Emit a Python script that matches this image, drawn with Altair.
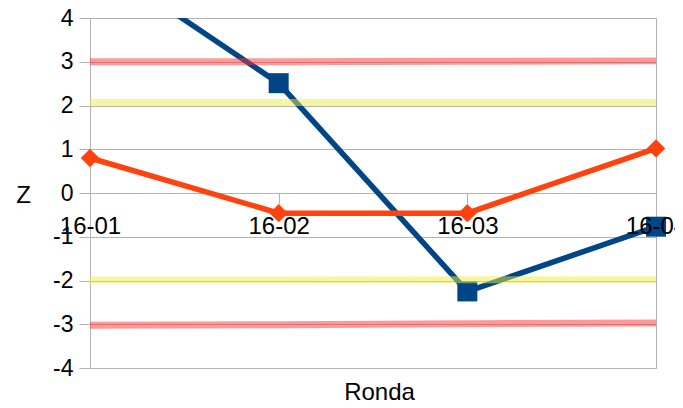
import altair as alt
import pandas as pd

rondas = ["16-01", "16-02", "16-03", "16-04"]
serie_azul = [5.41, 2.51, -2.25, -0.77]
serie_naranja = [0.80, -0.46, -0.46, 1.02]
rojo_sup = [3.00, 3.00, 3.01, 3.02]
rojo_inf = [-3.02, -3.01, -2.99, -2.97]
amarillo_sup = [2.07, 2.07, 2.07, 2.07]
amarillo_inf = [-1.99, -1.99, -1.98, -1.98]
y_ticks = [-4, -3, -2, -1, 0, 1, 2, 3, 4]

series = {
    "azul": serie_azul,
    "naranja": serie_naranja,
    "rojo_sup": rojo_sup,
    "rojo_inf": rojo_inf,
    "amarillo_sup": amarillo_sup,
    "amarillo_inf": amarillo_inf,
}
rows = []
for name, vals in series.items():
    for r, v in zip(rondas, vals):
        rows.append({"Ronda": r, "Z": v, "Serie": name})
df = pd.DataFrame(rows)

FONT = "Liberation Sans"
GREY = "#b3b3b3"

x = alt.X(
    "Ronda:N",
    sort=rondas,
    scale=alt.Scale(type="point", padding=0),
    axis=alt.Axis(
        title="Ronda", orient="bottom", offset=-175, domain=False, grid=False,
        ticks=True, tickSize=11, tickColor=GREY, labelFont=FONT, labelFontSize=24,
        labelColor="black", labelPadding=10, labelAngle=0,
        titleFont=FONT, titleFontSize=24, titleFontWeight="normal", titleColor="black",
        titleX=289, titleY=206, titleBaseline="alphabetic", titleAlign="center",
        zindex=1,
    ),
)
y = alt.Y(
    "Z:Q",
    scale=alt.Scale(domain=[-4, 4], nice=False, zero=False),
    axis=alt.Axis(
        title="Z", values=y_ticks, labelExpr="datum.value + ''", grid=True,
        gridColor=GREY, domainColor=GREY, tickColor=GREY, tickSize=11,
        labelPadding=6, labelFont=FONT, labelFontSize=23, labelColor="black",
        titleAngle=0, titleX=-67, titleY=184, titleAlign="center",
        titleBaseline="alphabetic", titleFont=FONT, titleFontSize=24,
        titleFontWeight="normal", titleColor="black",
    ),
)

base = alt.Chart(df)

azul_line = base.transform_filter("datum.Serie == 'azul'").mark_line(
    color="#004586", strokeWidth=5.5, clip=True).encode(x=x, y=y)
azul_pts = base.transform_filter("datum.Serie == 'azul' && datum.Z <= 4").mark_point(
    shape="square", filled=True, size=400, color="#004586", opacity=1).encode(x=x, y=y)
naranja_line = base.transform_filter("datum.Serie == 'naranja'").mark_line(
    color="#ff420e", strokeWidth=5.5).encode(x=x, y=y)
naranja_pts = base.transform_filter("datum.Serie == 'naranja'").mark_point(
    shape="diamond", filled=True, size=340, color="#ff420e", opacity=1).encode(x=x, y=y)
rojo = base.transform_filter("indexof(datum.Serie, 'rojo') == 0").mark_line(
    color="#ff3333", opacity=0.5, strokeWidth=7, strokeCap="butt").encode(
    x=x, y=y, detail="Serie:N")
amarillo = base.transform_filter("indexof(datum.Serie, 'amarillo') == 0").mark_line(
    color="#eeee44", opacity=0.5, strokeWidth=7, strokeCap="butt").encode(
    x=x, y=y, detail="Serie:N")

chart = alt.layer(azul_line, azul_pts, naranja_line, naranja_pts, rojo, amarillo).properties(
    width=566, height=350, autosize="none",
    padding={"left": 82, "top": 10, "right": 19, "bottom": 32},
).configure_view(stroke=GREY, strokeWidth=1)

chart.save("out.html", embed_options={"renderer": "svg", "actions": False})
